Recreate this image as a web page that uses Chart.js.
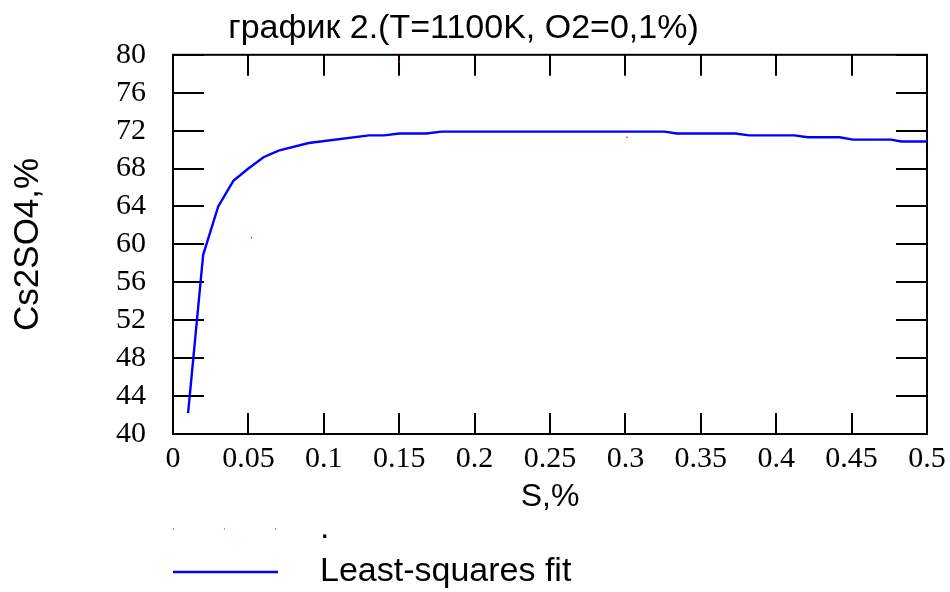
<!DOCTYPE html>
<html>
<head>
<meta charset="utf-8">
<script src="https://cdn.jsdelivr.net/npm/chart.js@4.4.1/dist/chart.umd.min.js"></script>
<style>
  html, body { margin: 0; padding: 0; background: #fff; }
  canvas { display: block; }
</style>
</head>
<body>
<canvas id="chart" width="950" height="592"></canvas>
<script>
'use strict';

// ── values ───────────────────────────────────────────────────────
const fitX = [0.01, 0.02, 0.03, 0.04, 0.05, 0.06, 0.07, 0.09, 0.13, 0.14, 0.15, 0.168,
              0.178, 0.326, 0.334, 0.373, 0.382, 0.412, 0.421, 0.442, 0.451, 0.476, 0.483, 0.5];
const fitY = [42.2, 58.9, 64.0, 66.7, 68.0, 69.2, 69.9, 70.7, 71.5, 71.5, 71.7, 71.7,
              71.9, 71.9, 71.7, 71.7, 71.5, 71.5, 71.3, 71.3, 71.05, 71.05, 70.85, 70.85];
const dotX = [0.052, 0.150, 0.301];
const dotY = [60.7, 79.3, 71.3];

const xTickValues = [0, 0.05, 0.1, 0.15, 0.2, 0.25, 0.3, 0.35, 0.4, 0.45, 0.5];
const xTickLabels = ['0', '0.05', '0.1', '0.15', '0.2', '0.25', '0.3', '0.35', '0.4', '0.45', '0.5'];
const yTickValues = [40, 44, 48, 52, 56, 60, 64, 68, 72, 76, 80];
const yTickLabels = ['40', '44', '48', '52', '56', '60', '64', '68', '72', '76', '80'];

const SANS  = "'Liberation Sans', Arial, sans-serif";
const SERIF = "'Liberation Serif', 'Times New Roman', serif";

// ── frame + inward tick marks on all four sides ──────────────────
const frameTicks = {
  id: 'frameTicks',
  beforeDatasetsDraw(chart) {
    const { ctx, chartArea: a, scales: { x, y } } = chart;
    ctx.save();
    ctx.strokeStyle = '#000';
    ctx.lineWidth = 2;
    ctx.beginPath();
    x.ticks.forEach(t => {
      const px = Math.round(x.getPixelForValue(t.value));
      ctx.moveTo(px, a.bottom); ctx.lineTo(px, a.bottom - 21);
      ctx.moveTo(px, a.top);    ctx.lineTo(px, a.top + 21);
    });
    y.ticks.forEach(t => {
      const py = Math.round(y.getPixelForValue(t.value));
      ctx.moveTo(a.left, py);  ctx.lineTo(a.left + 31, py);
      ctx.moveTo(a.right, py); ctx.lineTo(a.right - 31, py);
    });
    ctx.stroke();
    ctx.strokeRect(a.left, a.top, a.right - a.left, a.bottom - a.top);
    ctx.restore();
  }
};

// ── legend under the axis title, sample line + label ─────────────
const bottomLegend = {
  id: 'bottomLegend',
  afterDraw(chart) {
    const { ctx } = chart;
    const rows = [529, 572];
    ctx.save();
    chart.data.datasets.forEach((ds, i) => {
      const yy = rows[i];
      ctx.beginPath();
      ctx.strokeStyle = ds.borderColor;
      if (ds.showLine === false) {
        ctx.lineWidth = 1;
        ctx.setLineDash([1, 50]);
      } else {
        ctx.lineWidth = ds.borderWidth;
        ctx.setLineDash([]);
      }
      ctx.moveTo(173, yy);
      ctx.lineTo(278, yy);
      ctx.stroke();
      ctx.fillStyle = '#000';
      ctx.font = '34px ' + SANS;
      ctx.textBaseline = 'middle';
      ctx.fillText(ds.label, 320, yy);
    });
    ctx.restore();
  }
};

const ctx = document.getElementById('chart').getContext('2d');
new Chart(ctx, {
  type: 'line',
  data: {
    datasets: [
      {
        label: '.',
        data: dotX.map((v, i) => ({ x: v, y: dotY[i] })),
        showLine: false,
        borderColor: '#ff0000',
        backgroundColor: '#ff0000',
        pointRadius: 0.8,
        pointBorderWidth: 0,
      },
      {
        label: 'Least-squares fit',
        data: fitX.map((v, i) => ({ x: v, y: fitY[i] })),
        borderColor: '#0000ff',
        borderWidth: 2.4,
        pointRadius: 0,
        tension: 0,
        fill: false,
      },
    ],
  },
  options: {
    responsive: false,
    animation: false,
    layout: { padding: { left: 0, right: 23, top: 0, bottom: 75 } },
    plugins: {
      legend: { display: false },
      tooltip: { enabled: false },
      title: {
        display: true,
        text: 'график 2.(T=1100K, O2=0,1%)',
        color: '#000',
        font: { family: SANS, size: 34, weight: 'normal' },
        padding: { top: 8, bottom: 6 },
      },
    },
    scales: {
      x: {
        type: 'linear',
        min: 0,
        max: 0.5,
        afterBuildTicks: s => { s.ticks = xTickValues.map(v => ({ value: v })); },
        afterFit: s => { s.height = 83; s.paddingLeft = 0; s.paddingRight = 0; },
        grid: { display: false, drawTicks: false },
        border: { display: false },
        ticks: {
          color: '#000',
          padding: 7,
          maxRotation: 0,
          autoSkip: false,
          font: { family: SERIF, size: 30 },
          callback: (v, i) => xTickLabels[i],
        },
        title: {
          display: true,
          text: 'S,%',
          color: '#000',
          font: { family: SANS, size: 32 },
          padding: { top: 0, bottom: 1 },
        },
      },
      y: {
        min: 40,
        max: 80,
        afterBuildTicks: s => { s.ticks = yTickValues.map(v => ({ value: v })); },
        afterFit: s => { s.width = 173; },
        grid: { display: false, drawTicks: false },
        border: { display: false },
        ticks: {
          color: '#000',
          padding: 27,
          autoSkip: false,
          font: { family: SERIF, size: 30 },
          callback: (v, i) => yTickLabels[i],
        },
        title: {
          display: true,
          text: 'Cs2SO4,%',
          color: '#000',
          font: { family: SANS, size: 35 },
          padding: { top: 7, bottom: 0 },
        },
      },
    },
  },
  plugins: [frameTicks, bottomLegend],
});
</script>
</body>
</html>
